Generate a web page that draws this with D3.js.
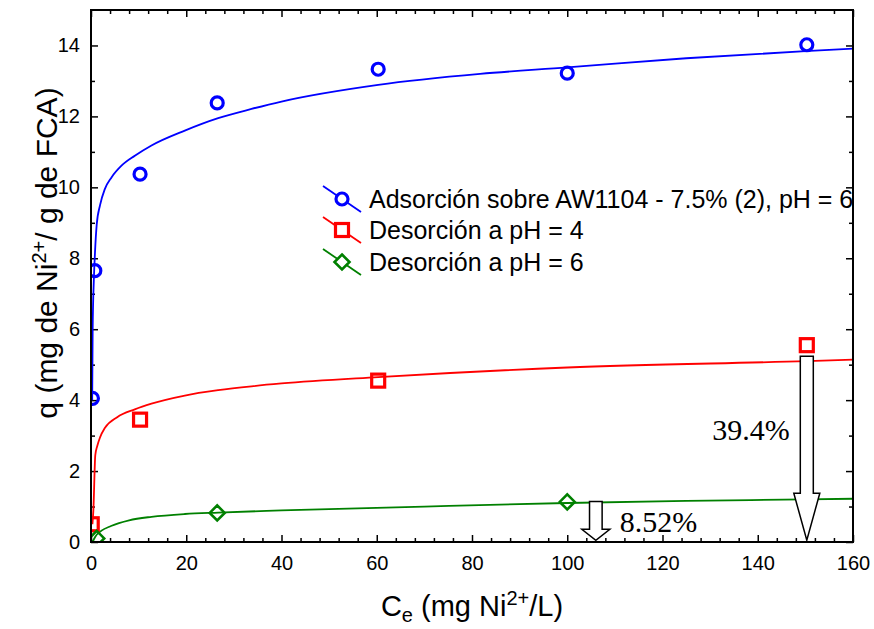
<!DOCTYPE html>
<html><head><meta charset="utf-8">
<script src="https://cdn.jsdelivr.net/npm/d3@7"></script>
<style>body{margin:0;background:#fff}svg{display:block}</style>
</head><body>
<svg id="chart" width="874" height="629"></svg>
<script>
// ---------- data ----------
const xTickValues = [0, 20, 40, 60, 80, 100, 120, 140, 160];
const yTickValues = [0, 2, 4, 6, 8, 10, 12, 14];

const seriesNames = [
  "Adsorción sobre AW1104 - 7.5% (2), pH = 6",
  "Desorción a pH = 4",
  "Desorción a pH = 6"
];

// measured points
const adsC = [0.3, 0.8, 10.3, 26.5, 60.3, 100.0, 150.3];
const adsQ = [4.05, 7.65, 10.37, 12.38, 13.33, 13.22, 14.02];
const desPH4C = [0.15, 10.3, 60.3, 150.3];
const desPH4Q = [0.50, 3.45, 4.55, 5.55];
const desPH6C = [1.2, 26.5, 100.0];
const desPH6Q = [0.10, 0.82, 1.13];

// fitted curves
const adsFitC = [0.25, 0.35, 0.6, 0.84, 1.2, 1.9, 2.9, 4.3, 6.4, 9.2, 12.7, 19.7, 26.7, 33.7, 40, 60.3, 81.7, 100, 125, 150, 160];
const adsFitQ = [4.0, 6.0, 7.4, 8.17, 8.95, 9.5, 9.95, 10.28, 10.61, 10.89, 11.18, 11.6, 11.95, 12.21, 12.42, 12.89, 13.2, 13.38, 13.64, 13.84, 13.91];
const ph4FitC = [0.3, 0.5, 0.9, 1.3, 1.9, 2.94, 5.5, 9.2, 12.7, 19.7, 26.7, 33.7, 40, 60.3, 100, 150.3, 160];
const ph4FitQ = [0.5, 0.9, 2.45, 2.7, 2.95, 3.22, 3.52, 3.74, 3.9, 4.13, 4.28, 4.39, 4.47, 4.65, 4.92, 5.10, 5.14];
const ph6FitC = [0.4, 0.9, 2.2, 4.2, 8, 12.7, 19.7, 26.7, 40, 70, 100, 125, 150, 160];
const ph6FitQ = [0.02, 0.15, 0.32, 0.45, 0.61, 0.71, 0.79, 0.83, 0.89, 1.0, 1.1, 1.16, 1.2, 1.22];

// annotation arrows
const arrowC = [150.3, 106];
const arrowTopQ = [5.24, 1.14];
const arrowTipQ = [0.05, 0.05];
const arrowLabels = ["39.4%", "8.52%"];

// ---------- layout / style ----------
const W = 874, H = 629;
const M = {l: 91, r: 21, t: 10, b: 87};
const colors = ["#0000ff", "#ff0000", "#008000"];
const sans = "'Liberation Sans', Arial, sans-serif";
const serif = "'Liberation Serif', 'Times New Roman', serif";

const svg = d3.select("#chart");
const x = d3.scaleLinear().domain([0, 160]).range([M.l, W - M.r]);
const y = d3.scaleLinear().domain([0, 15]).range([H - M.b, M.t]);

svg.append("rect").attr("width", W).attr("height", H).attr("fill", "#fff");

svg.append("defs").append("clipPath").attr("id", "plotclip")
  .append("rect").attr("x", x(0)).attr("y", y(15)).attr("width", x(160) - x(0)).attr("height", y(0) - y(15));

// ---------- axes ----------
const xMinor = d3.range(0, 161, 4).filter(v => v % 20 !== 0);
const yMinor = d3.range(1, 15, 2);

function styleAxis(g) {
  g.select(".domain").remove();
  g.selectAll(".tick line").attr("stroke", "#000").attr("stroke-width", 1.5);
  g.selectAll(".tick text").attr("fill", "#000").style("font-family", sans).style("font-size", "20px");
}
const bottomY = y(0), topY = y(15), leftX = x(0), rightX = x(160);

svg.append("g").attr("transform", `translate(0,${bottomY})`)
  .call(d3.axisBottom(x).tickValues(xTickValues).tickSize(-7).tickPadding(14).tickFormat(d3.format("d")))
  .call(styleAxis);
svg.append("g").attr("transform", `translate(0,${bottomY})`)
  .call(d3.axisBottom(x).tickValues(xMinor).tickSize(-4).tickFormat(""))
  .call(styleAxis);
svg.append("g").attr("transform", `translate(0,${topY})`)
  .call(d3.axisTop(x).tickValues(xTickValues).tickSize(-7).tickFormat(""))
  .call(styleAxis);
svg.append("g").attr("transform", `translate(0,${topY})`)
  .call(d3.axisTop(x).tickValues(xMinor).tickSize(-4).tickFormat(""))
  .call(styleAxis);

svg.append("g").attr("transform", `translate(${leftX},0)`)
  .call(d3.axisLeft(y).tickValues(yTickValues).tickSize(-7).tickPadding(11).tickFormat(d3.format("d")))
  .call(styleAxis);
svg.append("g").attr("transform", `translate(${leftX},0)`)
  .call(d3.axisLeft(y).tickValues(yMinor).tickSize(-4).tickFormat(""))
  .call(styleAxis);
svg.append("g").attr("transform", `translate(${rightX},0)`)
  .call(d3.axisRight(y).tickValues(yTickValues).tickSize(-7).tickFormat(""))
  .call(styleAxis);
svg.append("g").attr("transform", `translate(${rightX},0)`)
  .call(d3.axisRight(y).tickValues(yMinor).tickSize(-4).tickFormat(""))
  .call(styleAxis);

// ---------- plot content ----------
const plot = svg.append("g").attr("clip-path", "url(#plotclip)");
const line = d3.line().x(d => x(d[0])).y(d => y(d[1])).curve(d3.curveMonotoneX);
const fits = [[adsFitC, adsFitQ], [ph4FitC, ph4FitQ], [ph6FitC, ph6FitQ]];
fits.forEach(([cs, qs], i) => {
  plot.append("path").datum(cs.map((c, j) => [c, qs[j]]))
    .attr("d", line).attr("fill", "none").attr("stroke", colors[i]).attr("stroke-width", 1.8);
});

const symCircle = (g, cx, cy, c, f) => g.append("circle").attr("cx", cx).attr("cy", cy).attr("r", 6)
  .attr("fill", f).attr("stroke", c).attr("stroke-width", 3.2);
const symSquare = (g, cx, cy, c, f) => g.append("rect").attr("x", cx - 6.5).attr("y", cy - 6.5)
  .attr("width", 13).attr("height", 13).attr("fill", f).attr("stroke", c).attr("stroke-width", 3.2);
const symDiamond = (g, cx, cy, c, f) => g.append("path")
  .attr("d", `M${cx},${cy - 7.5}L${cx + 7.5},${cy}L${cx},${cy + 7.5}L${cx - 7.5},${cy}Z`)
  .attr("fill", f).attr("stroke", c).attr("stroke-width", 2.6);
const symbols = [symCircle, symSquare, symDiamond];

adsC.forEach((c, i) => symCircle(plot, x(c), y(adsQ[i]), colors[0], "none"));
desPH4C.forEach((c, i) => symSquare(plot, x(c), y(desPH4Q[i]), colors[1], "none"));
desPH6C.forEach((c, i) => symDiamond(plot, x(c), y(desPH6Q[i]), colors[2], "none"));

// ---------- arrows ----------
const arrowShape = [{shaft: 6.5, head: 13, headLen: 47}, {shaft: 6.3, head: 14, headLen: 11}];
arrowC.forEach((c, i) => {
  const cx = x(c), top = y(arrowTopQ[i]), tip = y(arrowTipQ[i]);
  const s = arrowShape[i], hb = tip - s.headLen;
  const p = `M${cx - s.shaft},${top}L${cx + s.shaft},${top}L${cx + s.shaft},${hb}L${cx + s.head},${hb}` +
            `L${cx},${tip}L${cx - s.head},${hb}L${cx - s.shaft},${hb}Z`;
  svg.append("path").attr("d", p).attr("fill", "#fff").attr("stroke", "#000").attr("stroke-width", 1.5);
});
svg.append("text").attr("x", x(arrowC[0]) - 17).attr("y", 440).attr("text-anchor", "end")
  .style("font-family", serif).style("font-size", "30px").text(arrowLabels[0]);
svg.append("text").attr("x", x(arrowC[1]) + 24).attr("y", 532).attr("text-anchor", "start")
  .style("font-family", serif).style("font-size", "30px").text(arrowLabels[1]);

// ---------- frame ----------
svg.append("rect").attr("x", leftX).attr("y", topY).attr("width", rightX - leftX).attr("height", bottomY - topY)
  .attr("fill", "none").attr("stroke", "#000").attr("stroke-width", 2);

// ---------- legend ----------
const legY = [199, 230, 262];
const leg = svg.append("g");
seriesNames.forEach((name, i) => {
  const cy = legY[i], cx = 342;
  leg.append("line").attr("x1", cx - 19).attr("y1", cy - 13).attr("x2", cx + 19).attr("y2", cy + 13)
    .attr("stroke", colors[i]).attr("stroke-width", 1.8);
  symbols[i](leg, cx, cy, colors[i], "#fff");
  leg.append("text").attr("x", 369).attr("y", cy + 9)
    .style("font-family", sans).style("font-size", "25px").attr("fill", "#000").text(name);
});

// ---------- axis titles ----------
const xt = svg.append("text").attr("x", (leftX + rightX) / 2).attr("y", 616).attr("text-anchor", "middle")
  .style("font-family", sans).style("font-size", "29px").attr("fill", "#000");
xt.append("tspan").text("C");
xt.append("tspan").attr("dy", 6).style("font-size", "20px").text("e");
xt.append("tspan").attr("dy", -6).text(" (mg Ni");
xt.append("tspan").attr("dy", -11).style("font-size", "20px").text("2+");
xt.append("tspan").attr("dy", 11).text("/L)");

const yt = svg.append("text").attr("transform", `translate(57,253) rotate(-90)`)
  .attr("text-anchor", "middle").style("font-family", sans).style("font-size", "30px").attr("fill", "#000");
yt.append("tspan").text("q (mg de Ni");
yt.append("tspan").attr("dy", -11).style("font-size", "20px").text("2+");
yt.append("tspan").attr("dy", 11).text("/ g de FCA)");
</script>
</body></html>
